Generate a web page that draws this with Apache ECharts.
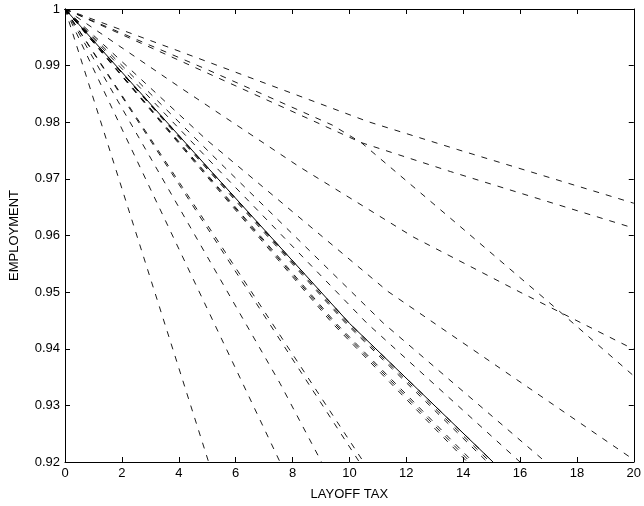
<!DOCTYPE html>
<html><head><meta charset="utf-8">
<script src="https://cdn.jsdelivr.net/npm/echarts@6/dist/echarts.min.js"></script>
<style>html,body{margin:0;padding:0;background:#fff}#c{width:644px;height:506px}</style>
</head><body><div id="c"></div>
<script>
// tick labels
const xTicks = [0,2,4,6,8,10,12,14,16,18,20];
const yTicks = [0.92,0.93,0.94,0.95,0.96,0.97,0.98,0.99,1];
// series values: [layoff tax, employment]
const c1 = [[0,1],[5.05,0.92]];
const c2 = [[0,1],[7.56,0.92]];
const c3 = [[0,1],[7.56,0.9339],[9.02,0.92]];
const c4 = [[0,1],[10.35,0.92]];
const c5 = [[0,1],[10.5,0.92]];
const tl1 = [[0,1],[4.7,0.9721],[9.4,0.9445],[14.15,0.92]];
const tl2 = [[0,1],[4.74,0.9721],[9.47,0.9445],[14.25,0.92]];
const tl3 = [[0,1],[4.77,0.9721],[9.53,0.9445],[14.35,0.92]];
const ov1 = [[0,1],[4.93,0.9721],[9.87,0.9445],[14.85,0.92]];
const ov2 = [[0,1],[4.97,0.9721],[9.93,0.9445],[14.95,0.92]];
const ov3 = [[0,1],[5.0,0.9721],[10.0,0.9445],[15.05,0.92]];
const solidLine = [[0,1],[5.0,0.9721],[10.0,0.9445],[15.05,0.92]];
const lb = [[0,1],[5.3,0.9721],[10.62,0.9445],[16.0,0.92]];
const lc = [[0,1],[5.6,0.9721],[11.2,0.9445],[16.9,0.92]];
const r5 = [[0,1],[5,0.9768],[11.36,0.9501],[20,0.9204]];
const r4 = [[0,1],[4.15,0.9858],[8.22,0.9722],[12.26,0.9597],[16,0.9500],[20,0.9399]];
const r3 = [[0,1],[5,0.9893],[9.4,0.9795],[10.42,0.9764],[13.8,0.962],[17.39,0.9466],[20,0.9352]];
const r2 = [[0,1],[5,0.9887],[10.42,0.9764],[13.55,0.9713],[20,0.9613]];
const r1 = [[0,1],[4.15,0.9923],[10.66,0.9801],[13.79,0.9752],[20,0.9657]];

const dashedSets = [c1,c2,c3,c4,c5,tl1,tl2,tl3,ov1,ov2,ov3,lb,lc,r5,r4,r3,r2,r1];

const font = 'Liberation Sans, Arial, Helvetica, sans-serif';
const chart = echarts.init(document.getElementById('c'), null, {renderer:'canvas'});
const axisCommon = {
  axisLine:{show:true,onZero:false,lineStyle:{color:'#000',width:1}},
  axisTick:{show:true,inside:true,length:5,lineStyle:{color:'#000',width:1}},
  splitLine:{show:false}
};
const series = dashedSets.map(d => ({
  type:'line', data:d, showSymbol:false, symbol:'none', animation:false, clip:true,
  lineStyle:{color:'#000',width:0.9,type:[6,7]}
}));
series.push({type:'line', data:solidLine, showSymbol:false, symbol:'none', animation:false, clip:true,
  lineStyle:{color:'#000',width:1,type:'solid'}});
chart.setOption({
  animation:false,
  backgroundColor:'#fff',
  grid:{left:61,right:9,top:9,bottom:42,containLabel:false},
  xAxis:[
    Object.assign({type:'value',min:xTicks[0],max:xTicks[xTicks.length-1],interval:2,position:'bottom',
      name:'LAYOFF TAX',nameLocation:'middle',nameGap:26,
      nameTextStyle:{color:'#000',fontSize:13,fontFamily:font},
      axisLabel:{color:'#000',fontSize:13,fontFamily:font,margin:5}},axisCommon),
    Object.assign({type:'value',min:xTicks[0],max:xTicks[xTicks.length-1],interval:2,position:'top',
      axisLabel:{show:false}},axisCommon)
  ],
  yAxis:[
    Object.assign({type:'value',min:yTicks[0],max:yTicks[yTicks.length-1],interval:0.01,position:'left',
      name:'EMPLOYMENT',nameLocation:'middle',nameGap:44,
      nameTextStyle:{color:'#000',fontSize:13,fontFamily:font},
      axisLabel:{color:'#000',fontSize:13,fontFamily:font,margin:5,
        formatter:v=>String(+v.toFixed(2))}},axisCommon),
    Object.assign({type:'value',min:yTicks[0],max:yTicks[yTicks.length-1],interval:0.01,position:'right',
      axisLabel:{show:false}},axisCommon)
  ],
  series:series
});
</script></body></html>
